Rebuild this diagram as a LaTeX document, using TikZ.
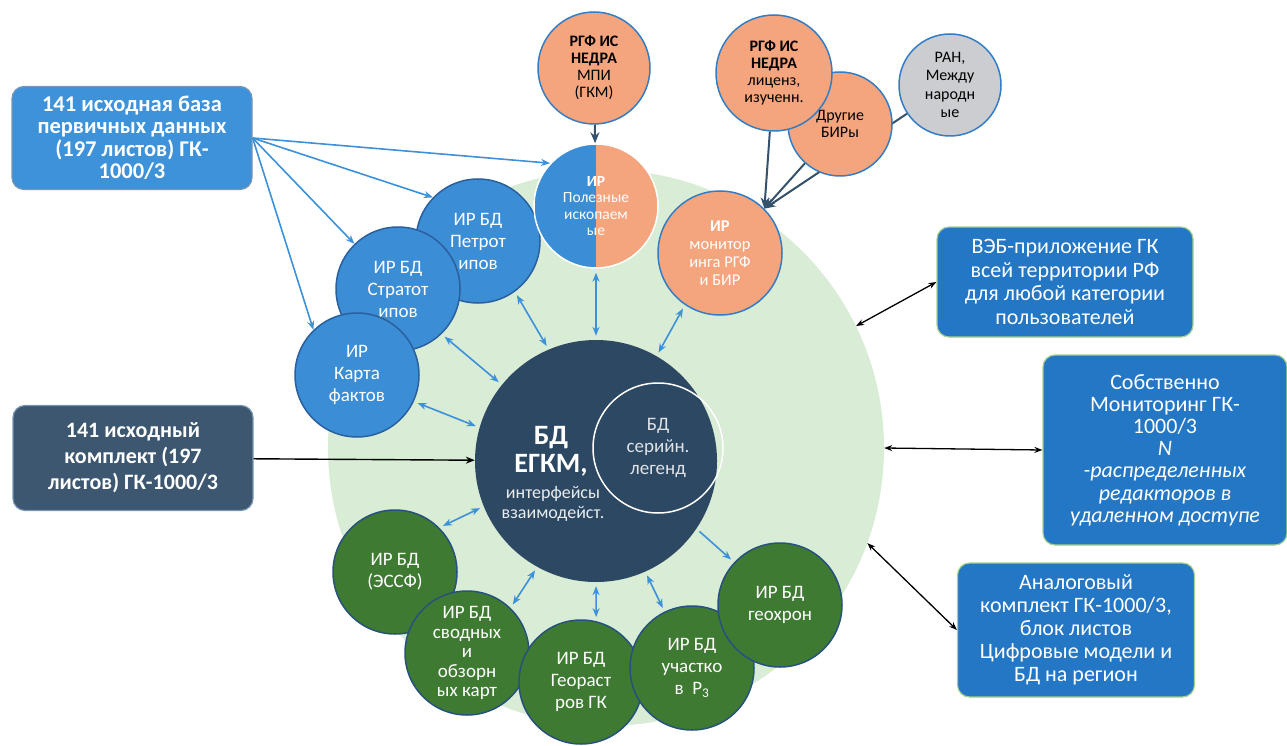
\documentclass[tikz,border=0pt]{standalone}
\usepackage{fontspec}
\setmainfont{Carlito}
\usetikzlibrary{arrows.meta,backgrounds}

\definecolor{PaleField}{RGB}{217,236,214}
\definecolor{CoreDark}{RGB}{45,72,99}
\definecolor{KitDark}{RGB}{60,87,111}
\definecolor{SatBlue}{RGB}{59,141,214}
\definecolor{SatEdge}{RGB}{42,96,158}
\definecolor{BaseBlue}{RGB}{62,146,218}
\definecolor{BaseRim}{RGB}{120,150,180}
\definecolor{BoxBlue}{RGB}{36,119,197}
\definecolor{BoxRim}{RGB}{165,208,145}
\definecolor{Peach}{RGB}{245,165,126}
\definecolor{RingBlue}{RGB}{52,125,196}
\definecolor{Ash}{RGB}{203,205,208}
\definecolor{Forest}{RGB}{62,122,50}
\definecolor{ForestEdge}{RGB}{38,82,125}
\definecolor{LinkBlue}{RGB}{60,145,218}
\definecolor{Slate}{RGB}{52,82,108}

\begin{document}
\begin{tikzpicture}[x=1pt,y=-1pt]
\tikzstyle{every node}=[align=center,inner sep=0pt,font=\fontsize{19}{22}\selectfont]
\tikzstyle{sat}=[circle,minimum size=124pt,line width=1.5pt,text=white]
\tikzstyle{bluesat}=[sat,fill=SatBlue,draw=SatEdge]
\tikzstyle{greensat}=[sat,fill=Forest,draw=ForestEdge]
\tikzstyle{source}=[circle,fill=Peach,draw=RingBlue,line width=1.5pt,text=black,font=\fontsize{16}{17}\selectfont]
\tikzstyle{infobox}=[rounded corners=12pt,fill=BoxBlue,draw=BoxRim,line width=1.2pt,text=white,font=\fontsize{22}{23.5}\selectfont]
\tikzstyle{link}=[LinkBlue,line width=1.6pt,-{Stealth[length=9pt,width=7pt]}]
\tikzstyle{duplex}=[LinkBlue,line width=1.6pt,{Stealth[length=9pt,width=7pt]}-{Stealth[length=9pt,width=7pt]},shorten <=4pt,shorten >=4pt]
\tikzstyle{feed}=[Slate,line width=2pt,-{Stealth[length=11pt,width=9pt]}]
\tikzstyle{outlink}=[black,line width=1.3pt,{Stealth[length=8pt,width=6pt]}-{Stealth[length=8pt,width=6pt]}]

\useasboundingbox (0,0) rectangle (1287,746);

\begin{scope}[on background layer]
\node[circle,fill=PaleField,minimum size=556pt] (Field) at (606,448) {};
\end{scope}

\node[circle,fill=CoreDark,minimum size=242pt] (Core) at (596,461) {};
\node[circle,draw=white,line width=1.5pt,minimum size=130pt,text=white!85!CoreDark] (Legend) at (658,448) {БД\\серийн.\\легенд};
\node[text=white,font=\bfseries\fontsize{28}{28}\selectfont] (CoreTitle) at (551,451) {БД\\ЕГКМ,};
\node[text=white!90!CoreDark,font=\fontsize{18}{20}\selectfont] (CoreNote) at (553,504) {интерфейсы\\взаимодейст.};

\node[bluesat] (Petrot) at (478,241) {ИР БД\\Петрот\\ипов};
\node[bluesat] (Strat) at (398,289) {ИР БД\\Стратот\\ипов};
\node[bluesat] (Karta) at (357,375) {ИР\\Карта\\фактов};
\node[sat,fill=SatBlue,draw=white,font=\fontsize{15.5}{16.5}\selectfont,
  path picture={\fill[Peach] (path picture bounding box.north) rectangle (path picture bounding box.south east);}]
  (Pol) at (596,206) {\textbf{ИР}\\Полезные\\ископаем\\ые};
\node[sat,fill=Peach,draw=RingBlue,font=\fontsize{16.5}{18}\selectfont] (Mon) at (720,253) {\textbf{ИР}\\монитор\\инга РГФ\\и БИР};

\node[greensat] (Essf) at (395,572) {ИР БД\\(ЭССФ)};
\node[greensat,font=\fontsize{19}{19.5}\selectfont] (Svod) at (467,653) {ИР БД\\сводных\\и\\обзорн\\ых карт};
\node[greensat] (Georast) at (581,682) {ИР БД\\Геораст\\ров ГК};
\node[greensat] (Uchast) at (692,668) {ИР БД\\участко\\в\ \ P\textsubscript{3}};
\node[greensat] (Geohron) at (780,605) {ИР БД\\геохрон};

\node[source,minimum size=112pt] (Mpi) at (594,68) {\textbf{РГФ ИС}\\\textbf{НЕДРА}\\МПИ\\(ГКМ)};
\node[source,minimum size=104pt] (Drugie) at (840,124) {Другие\\БИРы};
\node[source,minimum size=116pt] (Lic) at (774,73) {\textbf{РГФ ИС}\\\textbf{НЕДРА}\\лиценз,\\изученн.};
\node[source,fill=Ash,minimum size=102pt,font=\fontsize{16}{18.5}\selectfont] (Ran) at (950,85) {РАН,\\Между\\народн\\ые};

\node[infobox,fill=BaseBlue,draw=BaseRim,minimum width=240pt,minimum height=103pt,
  font=\bfseries\fontsize{22.5}{22.5}\selectfont] (Base) at (132,138) {141 исходная база\\первичных данных\\(197 листов) ГК-\\1000/3};
\node[infobox,fill=KitDark,draw=BaseRim,minimum width=240pt,minimum height=105pt,
  font=\bfseries\fontsize{22}{26}\selectfont] (Kit) at (133,458) {141 исходный\\комплект (197\\листов) ГК-1000/3};

\node[infobox,minimum width=256pt,minimum height=110pt] (Web) at (1065,282) {ВЭБ-приложение ГК\\всей территории РФ\\для любой категории\\пользователей};
\node[infobox,minimum width=244pt,minimum height=190pt,font=\fontsize{22}{22.2}\selectfont] (Own) at (1165,450)
  {Собственно\\Мониторинг ГК-\\1000/3\\\textit{N}\\\textit{-распределенных}\\\textit{редакторов в}\\\textit{удаленном доступе}};
\node[infobox,minimum width=237pt,minimum height=134pt,font=\fontsize{22}{23}\selectfont] (Analog) at (1076,630)
  {Аналоговый\\комплект ГК-1000/3,\\блок листов\\Цифровые модели и\\БД на регион};

\draw[link] (Base.east) -- (Pol.137);
\draw[link] (Base.east) -- (Petrot.136);
\draw[link] (Base.east) -- (Strat.134);
\draw[link] (Base.east) -- (Karta.134);

\draw[feed] (Mpi) -- (Pol);
\draw[feed] (Lic) -- (Mon.45);
\draw[feed] (Drugie) -- (Mon.45);
\begin{scope}[on background layer]
\draw[feed] (Ran) -- (Mon.45);
\end{scope}

\draw[black,line width=1.4pt,-{Stealth[length=9pt,width=7pt]}] (Kit) -- (Core);

\draw[duplex] (Karta.-25) -- (Core.164);
\draw[duplex] (Strat.-46) -- (Core.141);
\draw[duplex] (Petrot.-54) -- (Core.113);
\draw[duplex] (Pol.-90) -- (Core.90);
\draw[duplex] (Mon.236) -- (Core.60);
\draw[duplex] (Essf.45) -- (Core.202);
\draw[duplex] (Svod.46) -- (Core.241);
\draw[duplex] (Georast.76) -- (Core.270);
\draw[duplex] (Uchast.116) -- (Core.294);
\draw[link,shorten <=4pt,shorten >=4pt] (Core.326) -- (Geohron.137);

\draw[outlink] (Field.26) -- (Web.west);
\draw[outlink] (Field.0) -- (Own.west);
\draw[outlink] (Field.-20) -- (Analog.west);
\end{tikzpicture}
\end{document}
